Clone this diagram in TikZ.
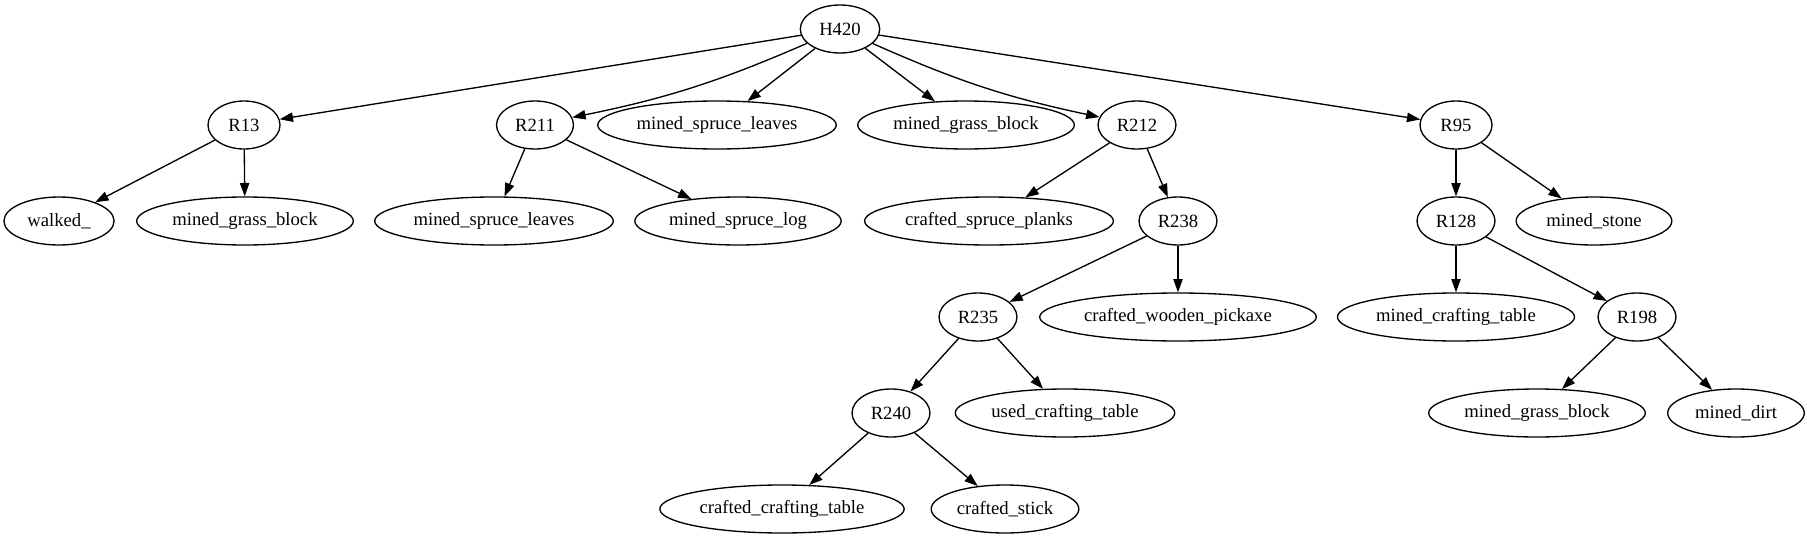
\documentclass[tikz,border=0pt]{standalone}
\usepackage{fontspec}
\setmainfont{Liberation Serif}
\usetikzlibrary{shapes.geometric,arrows.meta}

\tikzset{every picture/.style={line width=1pt}}
\tikzset{
  gnode/.style={draw, ellipse, inner xsep=3pt, inner ysep=3pt, minimum width=54pt,
    minimum height=36pt, font=\fontsize{14pt}{16.8pt}\selectfont},
  snode/.style={gnode, inner xsep=5.5pt},
  garrow/.style={-{Triangle[length=10pt,width=7pt]}}
}

\begin{document}
\begin{tikzpicture}[x=0.75pt,y=0.75pt,yscale=-1,xscale=1]
\useasboundingbox (0,0) rectangle (1807,539);

% Rank 0
\node [snode] (H420) at (840,29) {H420};
% Rank 1
\node [snode] (R13) at (244,125) {R13};
\node [snode] (R211) at (535,125) {R211};
\node [gnode] (mslA) at (717,125) {mined\_spruce\_leaves};
\node [gnode] (mgbA) at (966,125) {mined\_grass\_block};
\node [snode] (R212) at (1137,125) {R212};
\node [snode] (R95) at (1456,125) {R95};
% Rank 2
\node [snode] (walked) at (59,221) {walked\_};
\node [gnode] (mgbB) at (245,221) {mined\_grass\_block};
\node [gnode] (mslB) at (494,221) {mined\_spruce\_leaves};
\node [gnode] (mslog) at (738,221) {mined\_spruce\_log};
\node [gnode] (csp) at (989,221) {crafted\_spruce\_planks};
\node [snode] (R238) at (1178,221) {R238};
\node [snode] (R128) at (1456,221) {R128};
\node [snode] (mstone) at (1594,221) {mined\_stone};
% Rank 3
\node [snode] (R235) at (978,317) {R235};
\node [gnode] (cwp) at (1178,317) {crafted\_wooden\_pickaxe};
\node [gnode] (mct) at (1456,317) {mined\_crafting\_table};
\node [snode] (R198) at (1637,317) {R198};
% Rank 4
\node [snode] (R240) at (891,413) {R240};
\node [gnode] (uct) at (1065,413) {used\_crafting\_table};
\node [gnode] (mgbC) at (1537,413) {mined\_grass\_block};
\node [snode] (mdirt) at (1736,413) {mined\_dirt};
% Rank 5
\node [gnode] (cct) at (782,509) {crafted\_crafting\_table};
\node [gnode] (cstick) at (1005,509) {crafted\_stick};

% Edges
\draw [garrow] (H420) -- (R13);
\draw [garrow] (H420) to[bend right=6] (R211);
\draw [garrow] (H420) -- (mslA);
\draw [garrow] (H420) -- (mgbA);
\draw [garrow] (H420) to[bend left=6] (R212);
\draw [garrow] (H420) -- (R95);
\draw [garrow] (R13) -- (walked);
\draw [garrow] (R13) -- (mgbB);
\draw [garrow] (R211) -- (mslB);
\draw [garrow] (R211) -- (mslog);
\draw [garrow] (R212) -- (csp);
\draw [garrow] (R212) -- (R238);
\draw [garrow] (R95) -- (R128);
\draw [garrow] (R95) -- (mstone);
\draw [garrow] (R238) -- (R235);
\draw [garrow] (R238) -- (cwp);
\draw [garrow] (R128) -- (mct);
\draw [garrow] (R128) -- (R198);
\draw [garrow] (R235) -- (R240);
\draw [garrow] (R235) -- (uct);
\draw [garrow] (R198) -- (mgbC);
\draw [garrow] (R198) -- (mdirt);
\draw [garrow] (R240) -- (cct);
\draw [garrow] (R240) -- (cstick);

\end{tikzpicture}
\end{document}
